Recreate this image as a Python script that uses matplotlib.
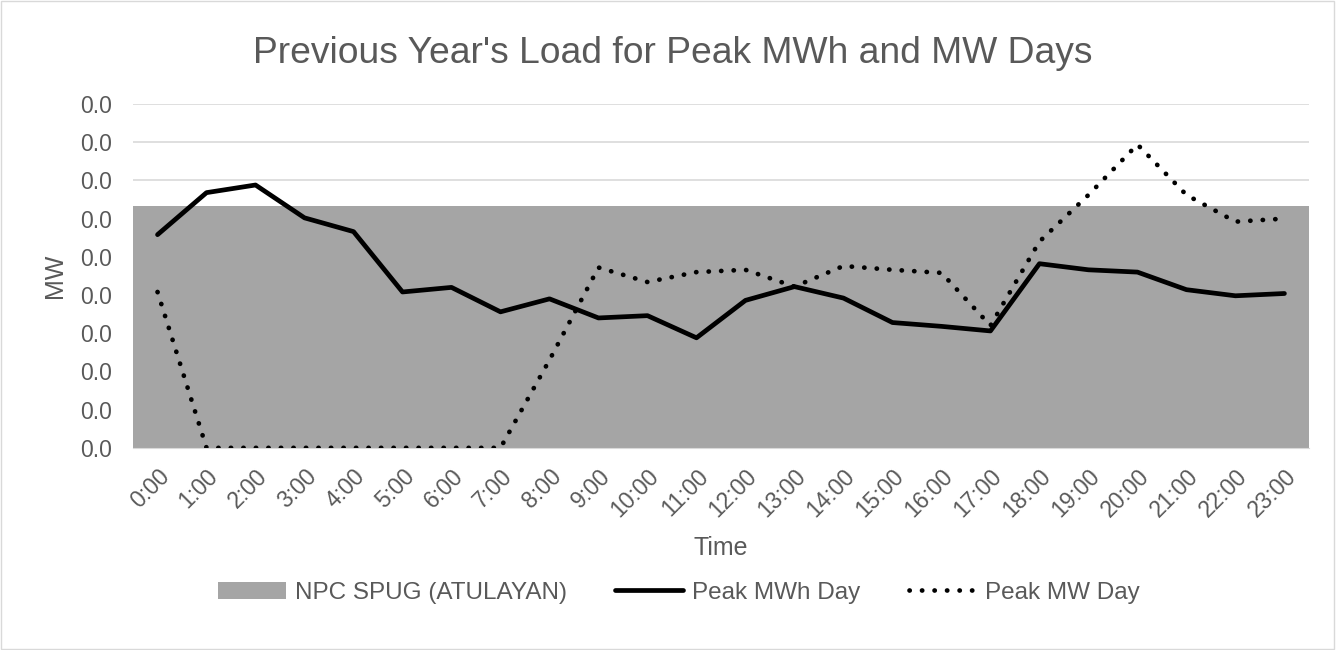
import matplotlib

matplotlib.use("Agg")

import matplotlib.pyplot as plt
import numpy as np
from matplotlib.ticker import FormatStrFormatter

plt.rcParams["font.family"] = ["Liberation Sans", "DejaVu Sans"]

hours = [f"{h}:00" for h in range(24)]
npc_spug = [0.0316] * 24
peak_mwh_day = [
    0.0279, 0.0334, 0.0344, 0.0301, 0.0283, 0.0204, 0.0210, 0.0178,
    0.0195, 0.0170, 0.0173, 0.0144, 0.0193, 0.0211, 0.0196, 0.0164,
    0.0159, 0.0153, 0.0241, 0.0233, 0.0230, 0.0207, 0.0199, 0.0202,
]
peak_mw_day = [
    0.0204, 0.0, 0.0, 0.0, 0.0, 0.0, 0.0, 0.0,
    0.0115, 0.0236, 0.0217, 0.0230, 0.0233, 0.0211, 0.0238, 0.0233,
    0.0229, 0.0160, 0.0270, 0.0331, 0.0397, 0.0331, 0.0296, 0.0300,
]
y_ticks = np.arange(0, 0.0451, 0.005)

text_grey = "#595959"
x = np.arange(len(hours))

fig = plt.figure(figsize=(13.37, 6.5), dpi=100)
ax = fig.add_axes([0.0995, 0.311, 0.8795, 0.529])

area = ax.bar(x, npc_spug, width=1.0, color="#A5A5A5", label="NPC SPUG (ATULAYAN)", zorder=2)
(solid,) = ax.plot(x, peak_mwh_day, color="black", linewidth=3.4, solid_joinstyle="round",
                   solid_capstyle="round", label="Peak MWh Day", zorder=3)
(dotted,) = ax.plot(x, peak_mw_day, color="black", linewidth=3.4, linestyle=(0, (0.05, 2.6)),
                    dash_capstyle="round", label="Peak MW Day", zorder=3)

ax.set_xlim(-0.5, len(hours) - 0.5)
ax.set_ylim(0, y_ticks[-1])
ax.set_yticks(y_ticks)
ax.yaxis.set_major_formatter(FormatStrFormatter("%.1f"))
ax.set_xticks(x, hours, rotation=45, ha="right", rotation_mode="anchor")
ax.grid(axis="y", color="#D9D9D9", linewidth=1.2, zorder=0)
ax.set_axisbelow(True)
for side in ["top", "right", "left"]:
    ax.spines[side].set_visible(False)
ax.spines["bottom"].set_color("#D9D9D9")
ax.tick_params(length=0, labelsize=16.5, colors=text_grey)
ax.tick_params(axis="y", pad=15)
ax.tick_params(axis="x", pad=12)

fig.text(0.503, 0.917, "Previous Year's Load for Peak MWh and MW Days", ha="center",
         va="center", fontsize=26.8, color=text_grey)
ax.set_xlabel("Time", fontsize=18, color=text_grey, va="center")
ax.xaxis.set_label_coords(0.5, (448 - 548) / 344)
ax.set_ylabel("MW", fontsize=18, color=text_grey, va="center", ha="center")
ax.yaxis.set_label_coords((55 - 133) / 1176, 0.5)

fig.legend([area, solid, dotted], ["NPC SPUG (ATULAYAN)", "Peak MWh Day", "Peak MW Day"],
           loc="center", bbox_to_anchor=(0.508, 0.088), ncol=3, frameon=False,
           fontsize=17.5, labelcolor=text_grey, handlelength=2.8, columnspacing=2.0,
           handletextpad=0.35)

fig.patches.append(plt.Rectangle((0.001, 0.001), 0.997, 0.997, transform=fig.transFigure,
                                 fill=False, edgecolor="#D9D9D9", linewidth=1))

fig.savefig("out.png", dpi=100)
